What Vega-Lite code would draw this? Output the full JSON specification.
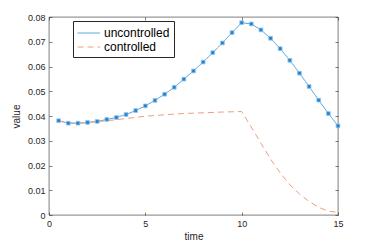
{
  "$schema": "https://vega.github.io/schema/vega-lite/v6.json",
  "width": 289,
  "height": 198,
  "autosize": "none",
  "padding": {"left": 49, "top": 17, "right": 36, "bottom": 27},
  "background": "white",
  "config": {
    "font": "Liberation Sans",
    "view": {"stroke": "#262626", "strokeWidth": 0.6},
    "axis": {
      "labelFont": "Liberation Sans",
      "titleFont": "Liberation Sans",
      "labelFontSize": 9,
      "titleFontSize": 10,
      "labelColor": "#262626",
      "titleColor": "#262626",
      "titleFontWeight": "normal",
      "domain": false,
      "grid": false,
      "tickColor": "#262626",
      "tickWidth": 0.6
    }
  },
  "data": {
    "values": [
      {"time": 0.5, "value": 0.0381, "series": "uncontrolled"},
      {"time": 1.0, "value": 0.0371, "series": "uncontrolled"},
      {"time": 1.5, "value": 0.0371, "series": "uncontrolled"},
      {"time": 2.0, "value": 0.0374, "series": "uncontrolled"},
      {"time": 2.5, "value": 0.0378, "series": "uncontrolled"},
      {"time": 3.0, "value": 0.0386, "series": "uncontrolled"},
      {"time": 3.5, "value": 0.0394, "series": "uncontrolled"},
      {"time": 4.0, "value": 0.0406, "series": "uncontrolled"},
      {"time": 4.5, "value": 0.0422, "series": "uncontrolled"},
      {"time": 5.0, "value": 0.0441, "series": "uncontrolled"},
      {"time": 5.5, "value": 0.0463, "series": "uncontrolled"},
      {"time": 6.0, "value": 0.0488, "series": "uncontrolled"},
      {"time": 6.5, "value": 0.0516, "series": "uncontrolled"},
      {"time": 7.0, "value": 0.0549, "series": "uncontrolled"},
      {"time": 7.5, "value": 0.0582, "series": "uncontrolled"},
      {"time": 8.0, "value": 0.0618, "series": "uncontrolled"},
      {"time": 8.5, "value": 0.0656, "series": "uncontrolled"},
      {"time": 9.0, "value": 0.0695, "series": "uncontrolled"},
      {"time": 9.5, "value": 0.0737, "series": "uncontrolled"},
      {"time": 10.0, "value": 0.0777, "series": "uncontrolled"},
      {"time": 10.5, "value": 0.0772, "series": "uncontrolled"},
      {"time": 11.0, "value": 0.0748, "series": "uncontrolled"},
      {"time": 11.5, "value": 0.0714, "series": "uncontrolled"},
      {"time": 12.0, "value": 0.0672, "series": "uncontrolled"},
      {"time": 12.5, "value": 0.0625, "series": "uncontrolled"},
      {"time": 13.0, "value": 0.0573, "series": "uncontrolled"},
      {"time": 13.5, "value": 0.0519, "series": "uncontrolled"},
      {"time": 14.0, "value": 0.0464, "series": "uncontrolled"},
      {"time": 14.5, "value": 0.0410, "series": "uncontrolled"},
      {"time": 15.0, "value": 0.0360, "series": "uncontrolled"},
      {"time": 0.5, "value": 0.0381, "series": "controlled"},
      {"time": 1.0, "value": 0.0372, "series": "controlled"},
      {"time": 1.5, "value": 0.0371, "series": "controlled"},
      {"time": 2.0, "value": 0.0373, "series": "controlled"},
      {"time": 2.5, "value": 0.0377, "series": "controlled"},
      {"time": 3.0, "value": 0.0381, "series": "controlled"},
      {"time": 3.5, "value": 0.0385, "series": "controlled"},
      {"time": 4.0, "value": 0.0390, "series": "controlled"},
      {"time": 5.0, "value": 0.0399, "series": "controlled"},
      {"time": 6.0, "value": 0.0405, "series": "controlled"},
      {"time": 7.0, "value": 0.0410, "series": "controlled"},
      {"time": 8.0, "value": 0.0413, "series": "controlled"},
      {"time": 9.0, "value": 0.0416, "series": "controlled"},
      {"time": 10.0, "value": 0.0418, "series": "controlled"},
      {"time": 10.5, "value": 0.0355, "series": "controlled"},
      {"time": 11.0, "value": 0.0290, "series": "controlled"},
      {"time": 11.5, "value": 0.0226, "series": "controlled"},
      {"time": 12.0, "value": 0.0170, "series": "controlled"},
      {"time": 12.5, "value": 0.0122, "series": "controlled"},
      {"time": 13.0, "value": 0.0085, "series": "controlled"},
      {"time": 13.5, "value": 0.0055, "series": "controlled"},
      {"time": 14.0, "value": 0.0031, "series": "controlled"},
      {"time": 14.5, "value": 0.0015, "series": "controlled"},
      {"time": 15.0, "value": 0.0011, "series": "controlled"}
    ]
  },
  "layer": [
    {
      "mark": {"type": "line", "strokeWidth": 1, "clip": true},
      "encoding": {
        "x": {
          "field": "time", "type": "quantitative",
          "scale": {"domain": [0, 15], "nice": false},
          "axis": {"orient": "bottom", "values": [0, 5, 10, 15], "tickSize": -3, "labelPadding": 7, "title": "time", "titlePadding": 3, "labelFlush": false}
        },
        "y": {
          "field": "value", "type": "quantitative",
          "scale": {"domain": [0, 0.08], "nice": false, "zero": false},
          "axis": {"orient": "left", "values": [0, 0.01, 0.02, 0.03, 0.04, 0.05, 0.06, 0.07, 0.08], "labelExpr": "datum.value == 0 ? '0' : format(datum.value, '.2f')", "tickSize": -3, "labelPadding": 7, "title": "value", "titlePadding": 6}
        },
        "color": {
          "field": "series", "type": "nominal",
          "scale": {"domain": ["uncontrolled", "controlled"], "range": ["#4a9fdc", "#ee9e7a"]},
          "legend": {
            "orient": "none", "legendX": 24, "legendY": 4, "title": null,
            "symbolType": "M-1,0H2", "symbolSize": 225, "symbolStrokeWidth": 1,
            "labelFontSize": 12, "labelFont": "Liberation Sans", "labelColor": "#000000",
            "strokeColor": "#262626", "fillColor": "white", "padding": 4,
            "rowPadding": 0, "labelOffset": 11
          }
        },
        "strokeDash": {
          "field": "series", "type": "nominal",
          "scale": {"domain": ["uncontrolled", "controlled"], "range": [[1, 0], [6, 4]]},
          "legend": null
        }
      }
    },
    {
      "transform": [{"filter": "datum.series == 'uncontrolled'"}],
      "mark": {"type": "point", "shape": "square", "filled": true, "size": 14, "color": "#1f7dcc", "opacity": 0.95, "stroke": "#8cc4ec", "strokeWidth": 0.8},
      "encoding": {
        "x": {"field": "time", "type": "quantitative", "axis": {"orient": "top", "values": [0, 5, 10, 15], "labels": false, "tickSize": -3, "title": null}},
        "y": {"field": "value", "type": "quantitative", "axis": {"orient": "right", "values": [0, 0.01, 0.02, 0.03, 0.04, 0.05, 0.06, 0.07, 0.08], "labels": false, "tickSize": -3, "title": null}}
      }
    }
  ],
  "resolve": {"axis": {"x": "independent", "y": "independent"}}
}
